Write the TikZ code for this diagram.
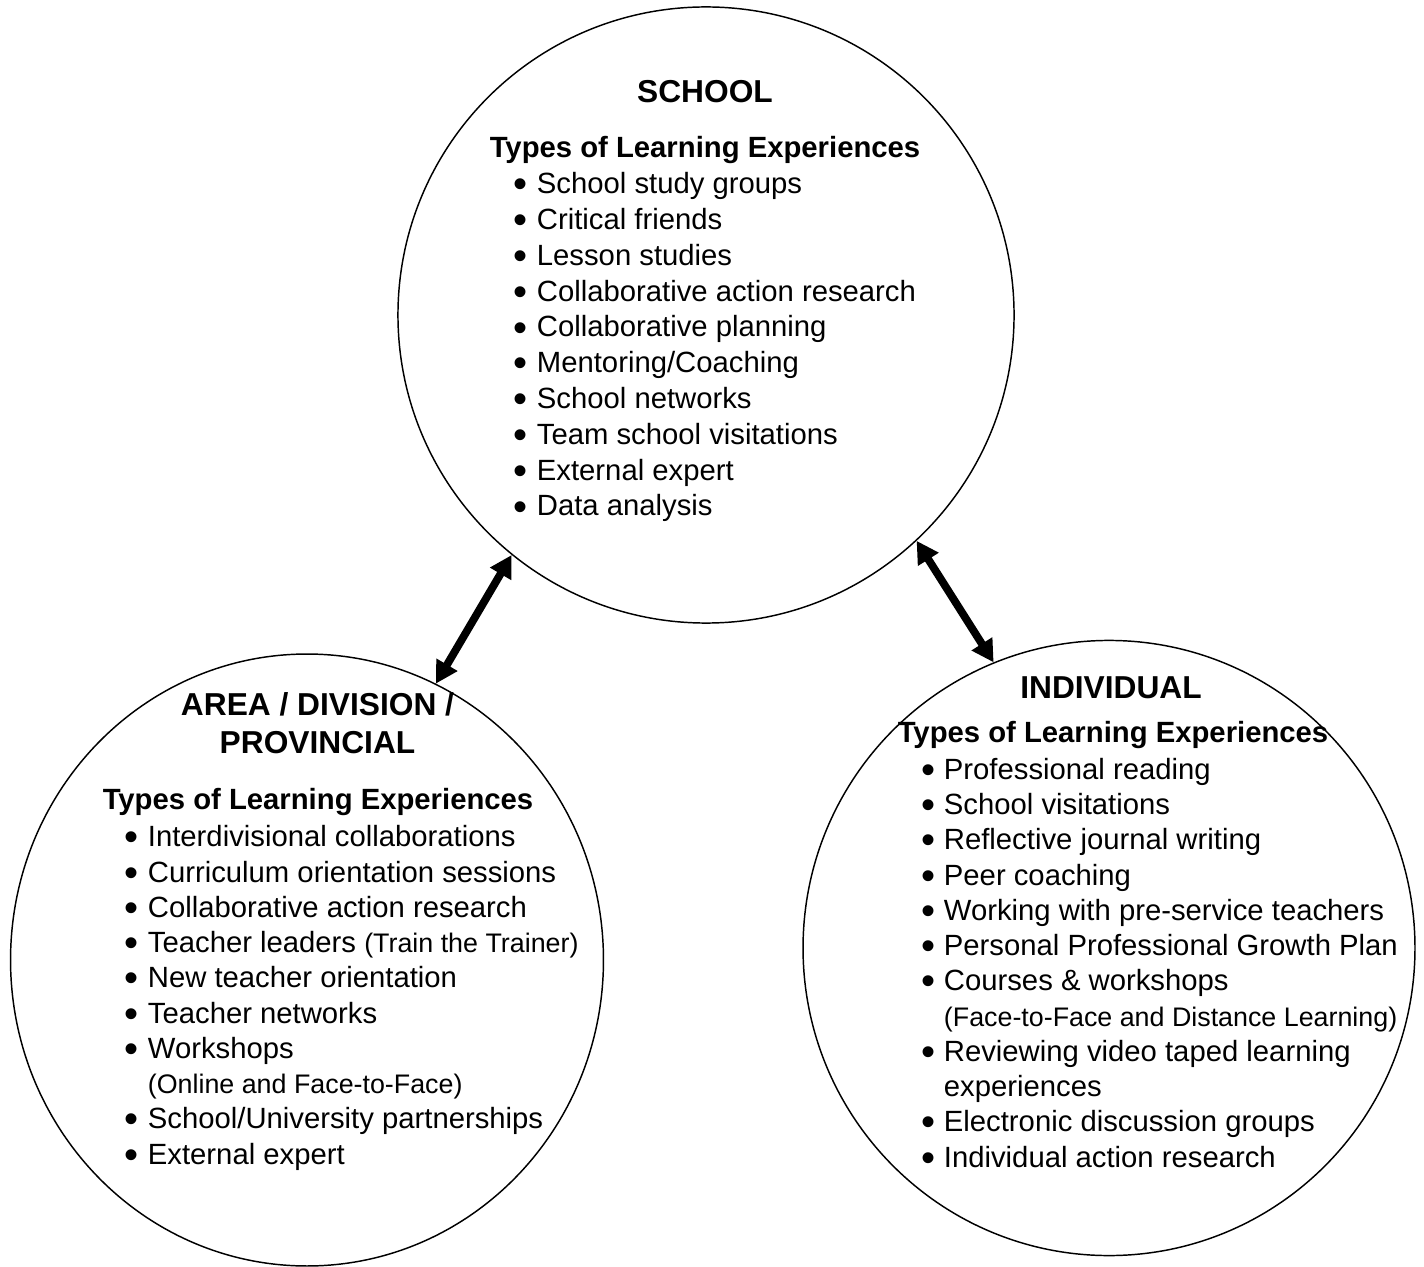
\documentclass[tikz,border=0pt]{standalone}
\usepackage{graphicx}
\usepackage{fontspec}
\setmainfont{Liberation Sans}
\usetikzlibrary{arrows.meta}
\usetikzlibrary{positioning}
\usetikzlibrary{shapes.geometric}

% bullet and indented second lines for the lists
\newcommand{\dotitem}{\makebox[9.4pt][l]{\raisebox{-1.7pt}{\scalebox{1.37}{\textbullet}}}}
\newcommand{\subline}[1]{\hspace*{9.4pt}{\fontsize{11}{13}\selectfont #1}}
\newcommand{\contline}[1]{\hspace*{9.4pt}#1}

\begin{document}
\begin{tikzpicture}[x=0.41pt,y=-0.41pt,
    ring/.style={draw, ellipse, inner sep=0pt, line width=0.6pt},
    title/.style={font=\fontsize{13}{15.2}\selectfont\bfseries, align=center, anchor=base, inner sep=0pt},
    types/.style={font=\fontsize{12}{14.4}\selectfont\bfseries, anchor=base, inner sep=0pt},
    items/.style={font=\fontsize{12}{14.45}\selectfont, align=left, anchor=base west, inner sep=0pt},
    link/.style={{Triangle[length=9pt,width=9.5pt]}-{Triangle[length=9pt,width=9.5pt]}, line width=3.2pt}]
    \useasboundingbox (0,0) rectangle (1424,1267);

    % the three circles
    \node[ring, minimum width=252.6pt, minimum height=252.6pt] (school) at (706,315) {};
    \node[ring, minimum width=243.1pt, minimum height=250.9pt] (area) at (307,960) {};
    \node[ring, minimum width=250.9pt, minimum height=252.2pt] (indiv) at (1109,948) {};

    % school (multi-line nodes sit on their last baseline)
    \node[title] (schooltitle) at (705,103) {SCHOOL};
    \node[types] (schooltypes) at (705,158) {Types of Learning Experiences};
    \node[items, font=\fontsize{12}{14.68}\selectfont] (schoollist) at (513.5,516) {\dotitem School study groups\\
        \dotitem Critical friends\\
        \dotitem Lesson studies\\
        \dotitem Collaborative action research\\
        \dotitem Collaborative planning\\
        \dotitem Mentoring/Coaching\\
        \dotitem School networks\\
        \dotitem Team school visitations\\
        \dotitem External expert\\
        \dotitem Data analysis};

    % area / division / provincial
    \node[title] (areatitle) at (317.5,753) {AREA / DIVISION /\\PROVINCIAL};
    \node[types] (areatypes) at (318,809) {Types of Learning Experiences};
    \node[items] (arealist) at (124.5,1164) {\dotitem Interdivisional collaborations\\
        \dotitem Curriculum orientation sessions\\
        \dotitem Collaborative action research\\
        \dotitem Teacher leaders {\fontsize{11}{13}\selectfont(Train the Trainer)}\\
        \dotitem New teacher orientation\\
        \dotitem Teacher networks\\
        \dotitem Workshops\\
        \subline{(Online and Face-to-Face)}\\
        \dotitem School/University partnerships\\
        \dotitem External expert};

    % individual
    \node[title] (indivtitle) at (1111,698) {INDIVIDUAL};
    \node[types] (indivtypes) at (1113,742) {Types of Learning Experiences};
    \node[items] (indivlist) at (920.5,1167) {\dotitem Professional reading\\
        \dotitem School visitations\\
        \dotitem Reflective journal writing\\
        \dotitem Peer coaching\\
        \dotitem Working with pre-service teachers\\
        \dotitem Personal Professional Growth Plan\\
        \dotitem Courses \& workshops\\
        \subline{(Face-to-Face and Distance Learning)}\\
        \dotitem Reviewing video taped learning\\
        \contline{experiences}\\
        \dotitem Electronic discussion groups\\
        \dotitem Individual action research};

    % two-way links
    \draw[link] (area.65) -- (school.231);
    \draw[link] (school.313) -- (indiv.112);
\end{tikzpicture}
\end{document}
